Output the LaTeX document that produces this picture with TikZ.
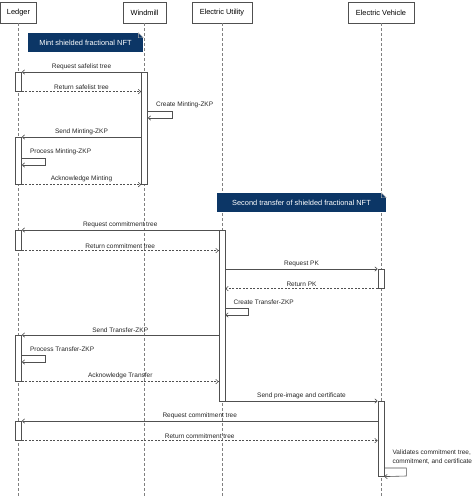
\documentclass[tikz,border=0pt]{standalone}
\usepackage{fontspec}
\setmainfont{Liberation Sans}
\usetikzlibrary{arrows.meta}
\definecolor{notebg}{RGB}{12,54,102}
\definecolor{linegray}{RGB}{80,80,80}
\tikzset{
  head/.style={draw=linegray, fill=white, minimum height=21pt, inner sep=0pt, font=\fontsize{7.4}{8}\selectfont},
  bar/.style={draw=linegray, fill=white, minimum width=6pt, inner sep=0pt, anchor=north},
  life/.style={draw=gray, dash pattern=on 3pt off 2pt},
  msg/.style={->, draw=linegray},
  ret/.style={msg, dash pattern=on 2pt off 1.5pt},
  lbl/.style={font=\fontsize{6.5}{9}\selectfont, text=black!85, inner sep=1pt},
  note/.style={fill=notebg, text=white, minimum height=19pt, inner sep=0pt, font=\fontsize{7.4}{8}\selectfont}
}
\begin{document}
\begin{tikzpicture}[x=1pt, y=-1pt, >={Straight Barb[length=2.5pt,width=4.5pt]}, line width=0.6pt]
\useasboundingbox (0,0) rectangle (474,496);
% participants
\node[head, minimum width=36pt] (ledger) at (18.5,12.5) {Ledger};
\node[head, minimum width=43pt] (wind) at (144.5,12.5) {Windmill};
\node[head, minimum width=60pt] (util) at (222,12.5) {Electric Utility};
\node[head, minimum width=66pt] (car) at (381,12.5) {Electric Vehicle};
\foreach \p in {ledger,wind,util,car}
{
    \draw[life] (\p.south) -- (\p |- 0,496);
}
% activation bars
\node[bar, minimum height=19pt] (la1) at (ledger |- 0,72) {};
\node[bar, minimum height=47pt] (la2) at (ledger |- 0,137) {};
\node[bar, minimum height=20pt] (la3) at (ledger |- 0,230) {};
\node[bar, minimum height=46pt] (la4) at (ledger |- 0,335) {};
\node[bar, minimum height=19pt] (la5) at (ledger |- 0,421) {};
\node[bar, minimum height=112pt] (wa1) at (wind |- 0,72) {};
\node[bar, minimum height=171pt] (ua1) at (util |- 0,230) {};
\node[bar, minimum height=19pt] (va1) at (car |- 0,269) {};
\node[bar, minimum height=75pt] (va2) at (car |- 0,401) {};
% notes
\node[note, minimum width=115pt] (mint) at (85.5,42.5) {Mint shielded fractional NFT};
\node[note, minimum width=169pt] (second) at (301.5,202.5) {Second transfer of shielded fractional NFT};
\foreach \n in {mint,second}
{
    \fill[white] ([xshift=-5pt]\n.north east) -- (\n.north east) -- ([yshift=-5pt]\n.north east) -- cycle;
    \draw[gray!60, line width=0.4pt] ([xshift=-5pt]\n.north east) -- ([xshift=-5pt,yshift=-5pt]\n.north east) -- ([yshift=-5pt]\n.north east) -- cycle;
}
% minting
\draw[msg] (wa1.north west) -- (la1.north east) node[lbl, midway, above=1pt]{Request safelist tree};
\draw[ret] (la1.south east) -- (la1.south east -| wa1.west) node[lbl, midway, above=1pt]{Return safelist tree};
\draw[msg] (wa1.east |- 0,111) -- ++(24,0) -- ++(0,7) -- (wa1.east |- 0,118);
\node[lbl, anchor=south west] (mintzkp) at ([xshift=7pt]wa1.east |- 0,109) {Create Minting-ZKP};
\draw[msg] (wa1.west |- la2.north) -- (la2.north east) node[lbl, midway, above=1pt]{Send Minting-ZKP};
\draw[msg] (la2.east |- 0,158) -- ++(23,0) -- ++(0,7) -- (la2.east |- 0,165);
\node[lbl, anchor=south west] (procmint) at ([xshift=7pt]la2.east |- 0,156) {Process Minting-ZKP};
\draw[ret] (la2.south east) -- (la2.south east -| wa1.west) node[lbl, midway, above=1pt]{Acknowledge Minting};
% second transfer
\draw[msg] (ua1.north west) -- (la3.north east) node[lbl, midway, above=1pt]{Request commitment tree};
\draw[ret] (la3.south east) -- (la3.south east -| ua1.west) node[lbl, midway, above=1pt]{Return commitment tree};
\draw[msg] (ua1.east |- va1.north) -- (va1.north west) node[lbl, midway, above=1pt]{Request PK};
\draw[ret] (va1.south west) -- (va1.south west -| ua1.east) node[lbl, midway, above=1pt]{Return PK};
\draw[msg] (ua1.east |- 0,308) -- ++(23,0) -- ++(0,7) -- (ua1.east |- 0,315);
\node[lbl, anchor=south west] (transzkp) at ([xshift=7pt]ua1.east |- 0,306) {Create Transfer-ZKP};
\draw[msg] (ua1.west |- la4.north) -- (la4.north east) node[lbl, midway, above=1pt]{Send Transfer-ZKP};
\draw[msg] (la4.east |- 0,355) -- ++(23,0) -- ++(0,7) -- (la4.east |- 0,362);
\node[lbl, anchor=south west] (proctrans) at ([xshift=7pt]la4.east |- 0,353) {Process Transfer-ZKP};
\draw[ret] (la4.south east) -- (la4.south east -| ua1.west) node[lbl, midway, above=1pt]{Acknowledge Transfer};
\draw[msg] (ua1.east |- va2.north) -- (va2.north west) node[lbl, midway, above=1pt]{Send pre-image and certificate};
\draw[msg] (va2.west |- la5.north) -- (la5.north east) node[lbl, midway, above=1pt]{Request commitment tree};
\draw[ret] (la5.south east) -- (la5.south east -| va2.west) node[lbl, midway, above=1pt]{Return commitment tree};
\draw[msg] (va2.east |- 0,468) -- ++(22,0) -- ++(0,8) -- (va2.south east);
\node[lbl, anchor=south west, align=left] (validate) at ([xshift=7pt]va2.east |- 0,465.5) {Validates commitment tree,\\commitment, and certificate};
\end{tikzpicture}
\end{document}
